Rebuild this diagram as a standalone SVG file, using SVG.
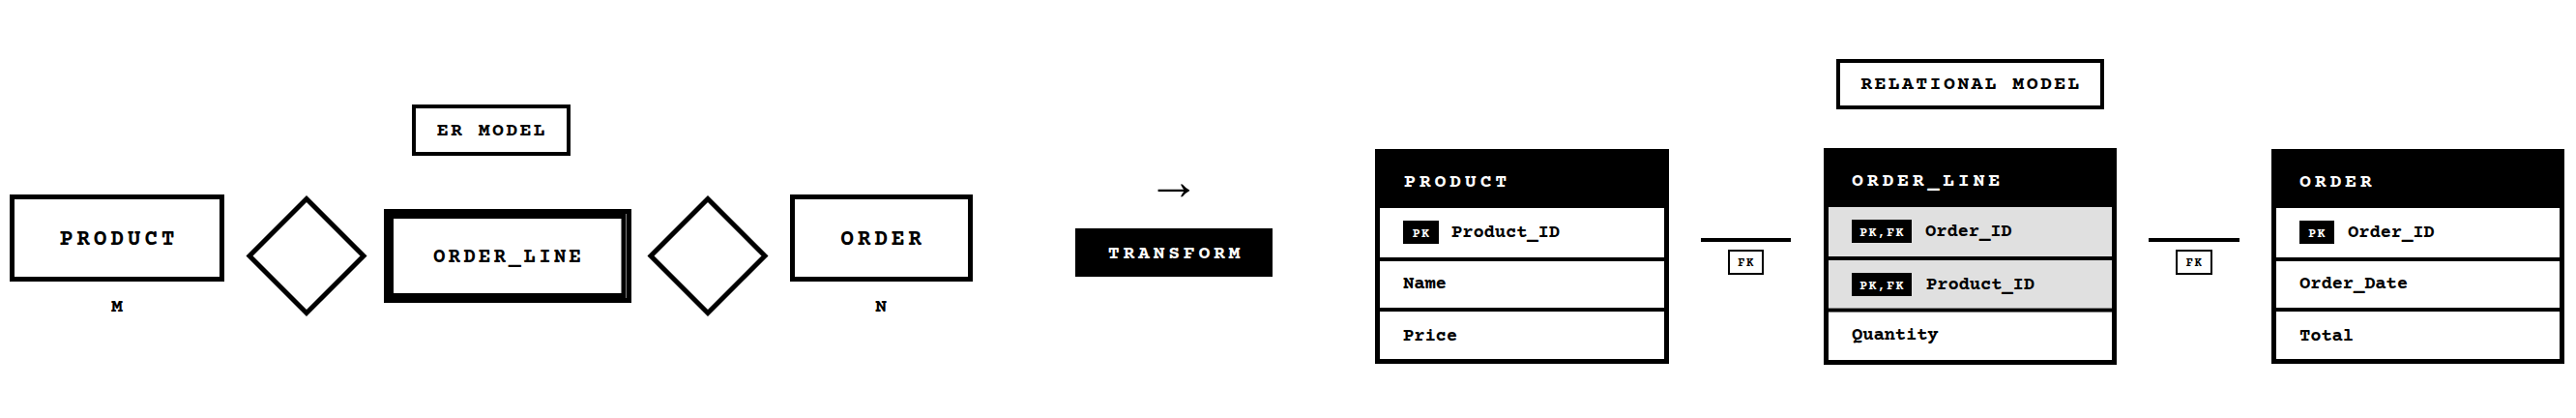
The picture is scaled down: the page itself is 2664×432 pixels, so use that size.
<svg xmlns="http://www.w3.org/2000/svg" width="2664" height="432" viewBox="0 0 2664 432">
<style>
text{font-family:"Courier Prime",FreeMono,"Liberation Mono","Courier New",monospace;font-weight:bold;fill:#000}
.ent{fill:#fff;stroke:#000;stroke-width:5}
.lbl{fill:#fff;stroke:#000;stroke-width:4}
.er{font-size:23px;letter-spacing:3.7px;text-anchor:middle}
.card{font-size:20px;text-anchor:middle}
.tag{font-size:20px;letter-spacing:2.3px;text-anchor:middle}
.hdr{font-size:20px;letter-spacing:3.7px;fill:#fff}
.att{font-size:19px;letter-spacing:-0.2px}
.bdg{font-size:13px;letter-spacing:1.5px;fill:#fff;text-anchor:middle}
.fk{font-size:12px;letter-spacing:1.5px;text-anchor:middle}
.tbl{fill:#fff;stroke:#000;stroke-width:5}
.sep{stroke:#000;stroke-width:4}
.key{fill:#e0e0e0}
.arrow{font-family:"Liberation Serif","DejaVu Serif",serif;font-weight:normal;font-size:55px;text-anchor:middle}
</style>
<g id="er-model-label">
<rect class="lbl" x="428" y="110" width="160" height="49"/>
<text class="tag" x="509" y="140">ER MODEL</text>
</g>
<g id="er-product">
<rect class="ent" x="12.5" y="203.5" width="217" height="85"/>
<text class="er" x="123" y="253">PRODUCT</text>
<text class="card" x="121" y="322">M</text>
</g>
<g id="er-rel1">
<polygon class="ent" points="317,205.5 376,264.5 317,323.5 258,264.5"/>
</g>
<g id="er-order-line">
<rect class="ent" x="399.5" y="218.5" width="251" height="92"/>
<rect class="ent" x="404.5" y="223.5" width="240.5" height="82"/>
<text class="er" x="526" y="271" style="font-size:21px;letter-spacing:3px">ORDER_LINE</text>
</g>
<g id="er-rel2">
<polygon class="ent" points="732,205.5 791,264.5 732,323.5 673,264.5"/>
</g>
<g id="er-order">
<rect class="ent" x="819.5" y="203.5" width="184" height="85"/>
<text class="er" x="913" y="253">ORDER</text>
<text class="card" x="911" y="322">N</text>
</g>
<g id="transform">
<text class="arrow" x="1214" y="206">→</text>
<rect x="1112" y="236" width="204" height="50" fill="#000"/>
<text x="1216" y="267" style="font-size:20px;letter-spacing:3.6px;fill:#fff;text-anchor:middle">TRANSFORM</text>
</g>
<g id="rel-model-label">
<rect class="lbl" x="1901" y="63" width="273" height="48"/>
<text class="tag" x="2038.5" y="92">RELATIONAL MODEL</text>
</g>
<g id="tbl-product">
<rect class="tbl" x="1424.5" y="156.5" width="299" height="217"/>
<rect x="1422" y="154" width="304" height="61" fill="#000"/>
<line class="sep" x1="1422" y1="268" x2="1726" y2="268"/>
<line class="sep" x1="1422" y1="320" x2="1726" y2="320"/>
<text class="hdr" x="1452" y="193">PRODUCT</text>
<rect x="1451" y="228" width="37" height="24" fill="#000"/>
<text class="bdg" x="1470" y="244.5">PK</text>
<text class="att" x="1501" y="245">Product_ID</text>
<text class="att" x="1451" y="298">Name</text>
<text class="att" x="1451" y="352">Price</text>
</g>
<g id="tbl-order-line">
<rect class="tbl" x="1888.5" y="155.5" width="298" height="219"/>
<rect class="key" x="1891" y="214" width="293" height="104"/>
<rect x="1886" y="153" width="303" height="61" fill="#000"/>
<line class="sep" x1="1886" y1="267" x2="2189" y2="267"/>
<line class="sep" x1="1886" y1="320.5" x2="2189" y2="320.5"/>
<text class="hdr" x="1915" y="192">ORDER_LINE</text>
<rect x="1915" y="227" width="62" height="24" fill="#000"/>
<text class="bdg" x="1946.5" y="243.5">PK,FK</text>
<text class="att" x="1991" y="244">Order_ID</text>
<rect x="1915" y="282" width="62" height="24" fill="#000"/>
<text class="bdg" x="1946.5" y="298.5">PK,FK</text>
<text class="att" x="1992" y="299">Product_ID</text>
<text class="att" x="1915" y="351">Quantity</text>
</g>
<g id="tbl-order">
<rect class="tbl" x="2351.5" y="156.5" width="298" height="217"/>
<rect x="2349" y="154" width="303" height="61" fill="#000"/>
<line class="sep" x1="2349" y1="268" x2="2652" y2="268"/>
<line class="sep" x1="2349" y1="320" x2="2652" y2="320"/>
<text class="hdr" x="2378" y="193">ORDER</text>
<rect x="2378" y="228" width="36" height="24" fill="#000"/>
<text class="bdg" x="2396.5" y="244.5">PK</text>
<text class="att" x="2428" y="245">Order_ID</text>
<text class="att" x="2378" y="298">Order_Date</text>
<text class="att" x="2378" y="352">Total</text>
</g>
<g id="connectors">
<line x1="1759" y1="248" x2="1852" y2="248" stroke="#000" stroke-width="4"/>
<rect x="1788" y="259" width="35" height="24" fill="#fff" stroke="#000" stroke-width="2"/>
<text class="fk" x="1806" y="275">FK</text>
<line x1="2222" y1="248" x2="2316" y2="248" stroke="#000" stroke-width="4"/>
<rect x="2251" y="259" width="36" height="24" fill="#fff" stroke="#000" stroke-width="2"/>
<text class="fk" x="2269.5" y="275">FK</text>
</g>
</svg>
